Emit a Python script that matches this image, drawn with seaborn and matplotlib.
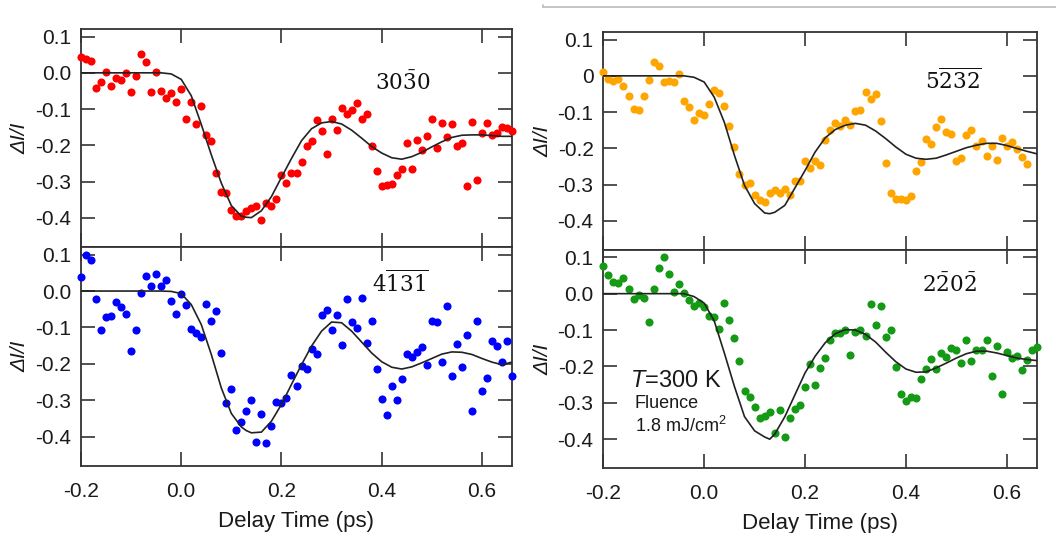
import matplotlib
matplotlib.use("Agg")
import matplotlib.pyplot as plt
from matplotlib.lines import Line2D
import seaborn as sns

# delay grid (ps) shared by the measured points
delay_ps = [-0.20, -0.19, -0.18, -0.17, -0.16, -0.15, -0.14, -0.13, -0.12, -0.11,
            -0.10, -0.09, -0.08, -0.07, -0.06, -0.05, -0.04, -0.03, -0.02, -0.01,
            0.00, 0.01, 0.02, 0.03, 0.04, 0.05, 0.06, 0.07, 0.08, 0.09,
            0.10, 0.11, 0.12, 0.13, 0.14, 0.15, 0.16, 0.17, 0.18, 0.19,
            0.20, 0.21, 0.22, 0.23, 0.24, 0.25, 0.26, 0.27, 0.28, 0.29,
            0.30, 0.31, 0.32, 0.33, 0.34, 0.35, 0.36, 0.37, 0.38, 0.39,
            0.40, 0.41, 0.42, 0.43, 0.44, 0.45, 0.46, 0.47, 0.48, 0.49,
            0.50, 0.51, 0.52, 0.53, 0.54, 0.55, 0.56, 0.57, 0.58, 0.59,
            0.60, 0.61, 0.62, 0.63, 0.64, 0.65, 0.66]

dI_3030 = [0.043, 0.039, 0.034, -0.043, -0.025, 0.003, -0.035, -0.013, -0.019, -0.001,
           -0.052, -0.008, 0.052, 0.031, -0.052, 0.003, -0.049, -0.068, -0.056, -0.081,
           -0.045, -0.127, -0.081, -0.141, -0.091, -0.172, -0.187, -0.276, -0.329, -0.332,
           -0.379, -0.394, -0.394, -0.382, -0.373, -0.366, -0.405, -0.359, -0.366, -0.348,
           -0.281, -0.304, -0.276, -0.276, -0.247, -0.201, -0.189, -0.130, -0.159, -0.223,
           -0.126, -0.157, -0.098, -0.113, -0.102, -0.084, -0.128, -0.114, -0.203, -0.270,
           -0.311, -0.309, -0.306, -0.281, -0.265, -0.194, -0.265, -0.185, -0.214, -0.174,
           -0.128, -0.206, -0.139, -0.177, -0.141, -0.203, -0.194, -0.311, -0.135, -0.295,
           -0.166, -0.139, -0.171, -0.166, -0.150, -0.153, -0.159]

dI_5232 = [0.010, -0.008, -0.013, -0.008, -0.027, -0.056, -0.092, -0.095, -0.056, -0.011,
           0.038, 0.027, -0.017, -0.013, -0.016, 0.004, -0.068, -0.086, -0.121, -0.102,
           -0.109, -0.077, -0.039, -0.048, -0.083, -0.139, -0.196, -0.270, -0.302, -0.295,
           -0.328, -0.343, -0.348, -0.323, -0.316, -0.323, -0.313, -0.329, -0.291, -0.291,
           -0.236, -0.253, -0.235, -0.247, -0.178, -0.148, -0.130, -0.139, -0.123, -0.135,
           -0.098, -0.095, -0.045, -0.063, -0.049, -0.125, -0.239, -0.322, -0.340, -0.340,
           -0.343, -0.331, -0.262, -0.238, -0.175, -0.187, -0.141, -0.118, -0.155, -0.161,
           -0.236, -0.227, -0.164, -0.150, -0.194, -0.180, -0.221, -0.192, -0.233, -0.171,
           -0.194, -0.181, -0.203, -0.224, -0.244]

dI_4131 = [0.038, 0.098, 0.084, -0.023, -0.106, -0.071, -0.069, -0.030, -0.044, -0.062,
           -0.165, -0.107, -0.005, 0.041, 0.013, 0.048, 0.013, 0.031, -0.027, -0.063,
           -0.008, -0.037, -0.104, -0.115, -0.127, -0.035, -0.083, -0.054, -0.171, -0.307,
           -0.268, -0.382, -0.360, -0.330, -0.298, -0.414, -0.337, -0.416, -0.371, -0.305,
           -0.307, -0.293, -0.231, -0.261, -0.206, -0.215, -0.158, -0.174, -0.065, -0.051,
           -0.108, -0.065, -0.147, -0.022, -0.085, -0.101, -0.019, -0.142, -0.083, -0.215,
           -0.295, -0.341, -0.261, -0.300, -0.240, -0.174, -0.181, -0.168, -0.153, -0.202,
           -0.081, -0.085, -0.195, -0.040, -0.234, -0.145, -0.208, -0.121, -0.330, -0.083,
           -0.273, -0.238, -0.138, -0.151, -0.195, -0.138, -0.232]

dI_2202 = [0.075, 0.052, 0.033, 0.028, 0.043, 0.012, -0.015, -0.003, -0.013, -0.077,
           0.012, 0.070, 0.102, 0.054, 0.005, 0.026, 0.003, -0.018, -0.034, -0.025,
           -0.036, -0.061, -0.063, -0.098, -0.026, -0.073, -0.123, -0.186, -0.267, -0.283,
           -0.312, -0.343, -0.335, -0.326, -0.382, -0.320, -0.395, -0.343, -0.317, -0.306,
           -0.257, -0.192, -0.251, -0.204, -0.177, -0.126, -0.109, -0.108, -0.100, -0.168,
           -0.106, -0.100, -0.117, -0.029, -0.085, -0.034, -0.119, -0.100, -0.202, -0.275,
           -0.295, -0.285, -0.287, -0.235, -0.207, -0.179, -0.207, -0.163, -0.174, -0.149,
           -0.156, -0.191, -0.126, -0.186, -0.154, -0.156, -0.128, -0.225, -0.143, -0.276,
           -0.160, -0.177, -0.170, -0.209, -0.181, -0.154, -0.146]

# fitted curves
fit_delay = [-0.20, -0.04, -0.02, 0.00, 0.02, 0.04, 0.06, 0.08, 0.10, 0.12, 0.13,
             0.14, 0.16, 0.18, 0.20, 0.22, 0.24, 0.26, 0.28, 0.30, 0.32, 0.34,
             0.36, 0.38, 0.40, 0.42, 0.44, 0.46, 0.48, 0.50, 0.52, 0.54, 0.56,
             0.58, 0.60, 0.62, 0.64, 0.66]
fit_3030 = [0, 0, -0.003, -0.018, -0.063, -0.142, -0.226, -0.304, -0.366, -0.395, -0.398,
            -0.399, -0.380, -0.341, -0.288, -0.236, -0.187, -0.154, -0.138, -0.134, -0.141,
            -0.158, -0.180, -0.203, -0.221, -0.234, -0.238, -0.231, -0.219, -0.204, -0.190,
            -0.178, -0.172, -0.171, -0.171, -0.173, -0.175, -0.175]
fit_5232 = [0, 0, -0.004, -0.017, -0.059, -0.128, -0.219, -0.302, -0.352, -0.378, -0.380,
            -0.376, -0.357, -0.309, -0.261, -0.210, -0.171, -0.148, -0.136, -0.131, -0.136,
            -0.152, -0.173, -0.196, -0.216, -0.227, -0.230, -0.227, -0.218, -0.208, -0.198,
            -0.191, -0.186, -0.186, -0.192, -0.200, -0.208, -0.215]
fit_4131 = [0, 0, -0.001, -0.007, -0.037, -0.092, -0.174, -0.266, -0.336, -0.373, -0.383,
            -0.389, -0.387, -0.357, -0.311, -0.256, -0.202, -0.151, -0.110, -0.085, -0.087,
            -0.110, -0.140, -0.170, -0.194, -0.209, -0.214, -0.208, -0.197, -0.185, -0.173,
            -0.167, -0.168, -0.174, -0.185, -0.195, -0.202, -0.195]
fit_2202 = [0, 0, -0.008, -0.026, -0.075, -0.163, -0.255, -0.338, -0.377, -0.394, -0.400,
            -0.386, -0.338, -0.278, -0.218, -0.172, -0.135, -0.110, -0.099, -0.100, -0.112,
            -0.133, -0.161, -0.187, -0.207, -0.216, -0.215, -0.204, -0.191, -0.177, -0.165,
            -0.158, -0.158, -0.163, -0.170, -0.177, -0.181, -0.184]

y_ticks = [0.1, 0.0, -0.1, -0.2, -0.3, -0.4]
y_labels = ["0.1", "0.0", "-0.1", "-0.2", "-0.3", "-0.4"]
y_labels_zero = ["0.1", "0", "-0.1", "-0.2", "-0.3", "-0.4"]
x_ticks = [-0.2, 0.0, 0.2, 0.4, 0.6]
x_labels = ["-0.2", "0.0", "0.2", "0.4", "0.6"]

sns.set_theme(style="ticks")
plt.rcParams["font.family"] = ["Liberation Sans", "DejaVu Sans"]
plt.rcParams["axes.unicode_minus"] = False
plt.rcParams["mathtext.fontset"] = "custom"
plt.rcParams["mathtext.rm"] = "DejaVu Serif"
plt.rcParams["mathtext.it"] = "Liberation Sans:italic"
plt.rcParams["mathtext.sf"] = "Liberation Sans"
for key in ("text.color", "axes.labelcolor", "xtick.color", "ytick.color"):
    plt.rcParams[key] = "#1a1a1a"

fig = plt.figure(figsize=(10.56, 5.33), dpi=100)
W, H = 1056, 533


def add_panel(left, right, top, bottom):
    return fig.add_axes([left / W, 1 - bottom / H, (right - left) / W, (bottom - top) / H])


def draw(ax, y, fit, color, label, lab_pos, ylabels, xlab):
    x = delay_ps[:len(y)]
    sns.scatterplot(x=x, y=y, ax=ax, color=color, s=34, linewidth=0,
                    legend=False, clip_on=False, zorder=3)
    sns.lineplot(x=fit_delay, y=fit, ax=ax, color="#222222", linewidth=1.2,
                 estimator=None, sort=False, zorder=4)
    ax.set_xlim(-0.2, 0.66)
    ax.set_ylim(-0.48, 0.12)
    ax.set_yticks(y_ticks, ylabels)
    ax.set_xticks(x_ticks, x_labels)
    ax.tick_params(direction="in", length=10, width=1.2, color="#333333",
                   top=True, right=True, labelsize=15, pad=7)
    ax.tick_params(axis="x", pad=11.5)
    if xlab:
        ax.set_xlabel("Delay Time (ps)", fontsize=16, labelpad=7)
    else:
        ax.tick_params(labelbottom=False)
    ax.set_ylabel("ΔI/I", fontsize=15, fontstyle="italic", labelpad=4)
    for sp in ax.spines.values():
        sp.set_visible(True)
        sp.set_linewidth(1.3)
        sp.set_color("#333333")
    ax.text(lab_pos[0], lab_pos[1], label, transform=ax.transAxes,
            fontsize=15.5, va="baseline", ha="left", color="#111111")


ax_tl = add_panel(81, 512, 29.3, 247)
ax_bl = add_panel(81, 512, 247.3, 466)
ax_tr = add_panel(603.3, 1037, 32.3, 250)
ax_br = add_panel(603.3, 1037, 250, 468.3)

draw(ax_tl, dI_3030, fit_3030, "#ff0000", r"$30\bar{3}0$", (0.682, 0.721), y_labels, False)
draw(ax_bl, dI_4131, fit_4131, "#0000ff", r"$4\overline{131}$", (0.675, 0.796), y_labels, True)
draw(ax_tr, dI_5232, fit_5232, "#ffa500", r"$5\overline{232}$", (0.741, 0.74), y_labels_zero, False)
draw(ax_br, dI_2202, fit_2202, "#149a14", r"$2\bar{2}0\bar{2}$", (0.735, 0.808), y_labels, True)

ax_br.text(0.062, 0.372, r"$T$=300 K", transform=ax_br.transAxes, fontsize=17, va="baseline")
ax_br.text(0.073, 0.276, "Fluence", transform=ax_br.transAxes, fontsize=13, va="baseline")
ax_br.text(0.073, 0.166, r"1.8 mJ/cm$^{\mathsf{2}}$", transform=ax_br.transAxes,
           fontsize=13, va="baseline")

# thin grey rule at the top right of the image
fig.add_artist(Line2D([543 / W, 1], [1 - 7 / H, 1 - 7 / H], color="#bbbbbb", linewidth=1.2))
fig.add_artist(Line2D([543 / W, 543 / W], [1 - 5 / H, 1 - 7 / H], color="#bbbbbb", linewidth=1.2))

fig.savefig("out.png", dpi=100)
